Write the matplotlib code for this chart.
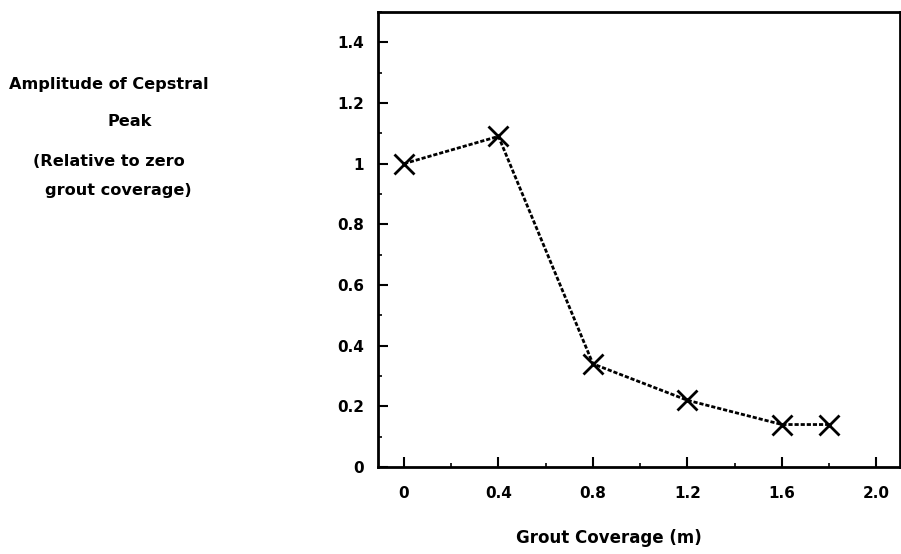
import matplotlib.pyplot as plt
from matplotlib.ticker import MultipleLocator

coverage = [0, 0.4, 0.8, 1.2, 1.6, 1.8]
amplitude = [1.0, 1.09, 0.34, 0.22, 0.14, 0.14]
x_ticks = [0, 0.4, 0.8, 1.2, 1.6, 2.0]
x_labels = ['0', '0.4', '0.8', '1.2', '1.6', '2.0']
y_ticks = [0, 0.2, 0.4, 0.6, 0.8, 1.0, 1.2, 1.4]
y_labels = ['0', '0.2', '0.4', '0.6', '0.8', '1', '1.2', '1.4']

plt.rcParams['font.family'] = ['DejaVu Sans']
plt.rcParams['font.weight'] = 'bold'

fig = plt.figure(figsize=(9.01, 5.54), dpi=100)
ax = fig.add_axes([378/901, 1 - 467/554, (900 - 378)/901, (467 - 12)/554])

ax.plot(coverage, amplitude, color='black', linestyle=(0, (1.5, 0.7)), linewidth=2,
        marker='x', markersize=15, markeredgewidth=2)

ax.set_xlim(-0.11, 2.1)
ax.set_ylim(0, 1.5)
ax.set_xticks(x_ticks)
ax.set_xticklabels(x_labels, fontsize=11, fontweight='bold')
ax.set_yticks(y_ticks)
ax.set_yticklabels(y_labels, fontsize=11, fontweight='bold')
ax.xaxis.set_minor_locator(MultipleLocator(0.2))
ax.yaxis.set_minor_locator(MultipleLocator(0.1))
ax.tick_params(which='both', direction='in', top=False, right=False)
ax.tick_params(which='major', length=7, width=1.5, pad=10)
ax.tick_params(which='minor', length=3, width=1.2)
ax.tick_params(axis='x', pad=14)
for s in ax.spines.values():
    s.set_linewidth(2)

# axis titles as in the scanned figure
fig.text(609/901, 1 - 538/554, 'Grout Coverage (m)', ha='center', va='center',
         fontsize=12, fontweight='bold')
fig.text(109/901, 1 - 85/554, 'Amplitude of Cepstral', ha='center', va='center',
         fontsize=11.6, fontweight='bold')
fig.text(130/901, 1 - 121/554, 'Peak', ha='center', va='center',
         fontsize=11.6, fontweight='bold')
fig.text(33/901, 1 - 162/554, '(Relative to zero', ha='left', va='center',
         fontsize=11.6, fontweight='bold')
fig.text(45/901, 1 - 190/554, 'grout coverage)', ha='left', va='center',
         fontsize=11.6, fontweight='bold')

fig.savefig('out.png', dpi=100)
